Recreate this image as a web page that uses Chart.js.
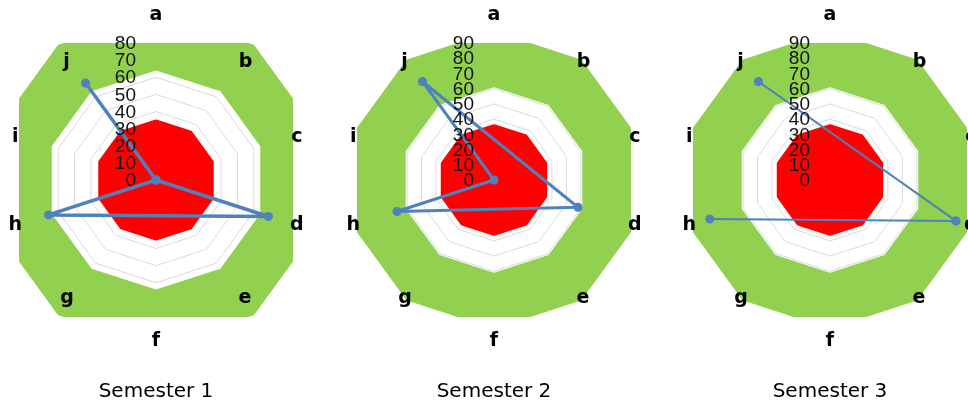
<!DOCTYPE html>
<html>
<head>
<meta charset="utf-8">
<script src="https://cdn.jsdelivr.net/npm/chart.js@4/dist/chart.umd.min.js"></script>
<style>
html, body { margin: 0; padding: 0; background: #fff; overflow: hidden; }
body { width: 968px; height: 403px; position: relative; }
canvas { position: absolute; top: 0; }
</style>
</head>
<body>
<canvas id="chart1" width="320" height="403" style="left:0px"></canvas>
<canvas id="chart2" width="320" height="403" style="left:338px"></canvas>
<canvas id="chart3" width="320" height="403" style="left:674px"></canvas>
<script>
const categories = ["a", "b", "c", "d", "e", "f", "g", "h", "i", "j"];
const titles = ["Semester 1", "Semester 2", "Semester 3"];
const scaleMax = [80, 90, 90];

// blue series (null = empty cell)
const semester1 = [0, 0, 0, 69, null, null, null, 66, 0, 70];
const semester2 = [null, null, null, 58, null, null, null, 67, 0, 80];
const semester3 = [null, null, null, 87, null, null, null, 83, null, 80];

// green band, white band edge, red core
const green1 = [95, 95, 95, 95, 95, 95, 95, 95, 95, 95];
const green2 = [95, 95, 95, 95, 95, 95, 95, 95, 95, 95];
const green3 = [95, 95, 95, 95, 95, 95, 95, 95, 95, 95];
const white1 = [64, 64, 64, 64, 64, 64, 64, 64, 64, 64];
const white2 = [61, 61, 61, 61, 61, 61, 61, 61, 61, 61];
const white3 = [61, 61, 61, 61, 61, 61, 61, 61, 61, 61];
const red1 = [33, 33, 33, 33, 33, 33, 33, 33, 33, 33];
const red2 = [34, 34, 34, 34, 34, 34, 34, 34, 34, 34];
const red3 = [34, 34, 34, 34, 34, 34, 34, 34, 34, 34];

const BLUE = "#4f81bd", GREEN = "#92d050", RED = "#ff0000";

function only(values, keys) {
    return values.map((v, i) => keys.includes(categories[i]) ? v : null);
}

// tick labels, axis letters and caption drawn on top of the areas
const overlay = {
    id: 'overlay',
    afterDatasetsDraw(chart, args, opts) {
        const ctx = chart.ctx;
        const r = chart.scales.r;
        ctx.save();
        ctx.fillStyle = "#111";
        ctx.font = '19px "Liberation Sans"';
        ctx.textAlign = "right";
        ctx.textBaseline = "middle";
        r.ticks.forEach(t => {
            ctx.fillText(t.label, r.xCenter - 20, r.yCenter - r.getDistanceFromCenterForValue(t.value) + 1);
        });
        ctx.fillStyle = "#000";
        ctx.font = 'bold 19px "DejaVu Sans"';
        ctx.textAlign = "center";
        chart.data.labels.forEach((lab, i) => {
            const ang = r.getIndexAngle(i);
            const c = Math.cos(ang);
            const extra = 5 + (c > 0 ? 24 : 18) * Math.pow(c, 8);
            const p = r.getPointPosition(i, r.drawingArea + extra);
            ctx.fillText(lab, p.x + 6 * Math.sin(ang), p.y + 1);
        });
        ctx.font = '20px "DejaVu Sans"';
        ctx.fillText(opts.title, r.xCenter, 392);
        ctx.restore();
    }
};

function makeRadar(id, k, blueParts, lineWidth, green, white, red) {
    const blueSets = blueParts.map(values => ({
        data: values,
        borderColor: BLUE,
        backgroundColor: BLUE,
        borderWidth: lineWidth,
        borderJoinStyle: 'round',
        pointRadius: 4.5,
        pointBorderWidth: 0,
        pointBackgroundColor: BLUE,
        spanGaps: true,
        fill: false,
        clip: 0
    }));
    let ctx = document.getElementById(id).getContext('2d');
    new Chart(ctx, {
        type: 'radar',
        data: {
            labels: categories,
            datasets: blueSets.concat([
                { data: red, borderColor: RED, backgroundColor: RED, borderWidth: 8,
                  borderJoinStyle: 'round', pointRadius: 0, fill: 'origin', clip: 0 },
                { data: green, borderColor: GREEN, backgroundColor: GREEN, borderWidth: 8,
                  borderJoinStyle: 'round', pointRadius: 0, fill: '+1', clip: 0 },
                { data: white, borderWidth: 0, borderColor: 'rgba(0,0,0,0)', pointRadius: 0, fill: false, clip: 0 }
            ])
        },
        options: {
            responsive: false,
            animation: false,
            events: [],
            layout: { padding: { left: 19, right: 27, top: 43, bottom: 86 } },
            elements: { line: { tension: 0 } },
            plugins: {
                legend: { display: false },
                tooltip: { enabled: false },
                overlay: { title: titles[k] }
            },
            scales: {
                r: {
                    min: 0,
                    max: scaleMax[k],
                    ticks: { stepSize: 10, display: false },
                    grid: { color: "#d9d9d9", lineWidth: 1 },
                    angleLines: { display: false },
                    pointLabels: { display: false }
                }
            }
        },
        plugins: [overlay]
    });
}

makeRadar("chart1", 0, [semester1], 3.5, green1, white1, red1);
makeRadar("chart2", 1, [semester2], 3, green2, white2, red2);
// third chart: j-d and d-h are joined, h-j is not
makeRadar("chart3", 2, [only(semester3, ["d", "h"]), only(semester3, ["d", "j"])], 2, green3, white3, red3);
</script>
</body>
</html>
